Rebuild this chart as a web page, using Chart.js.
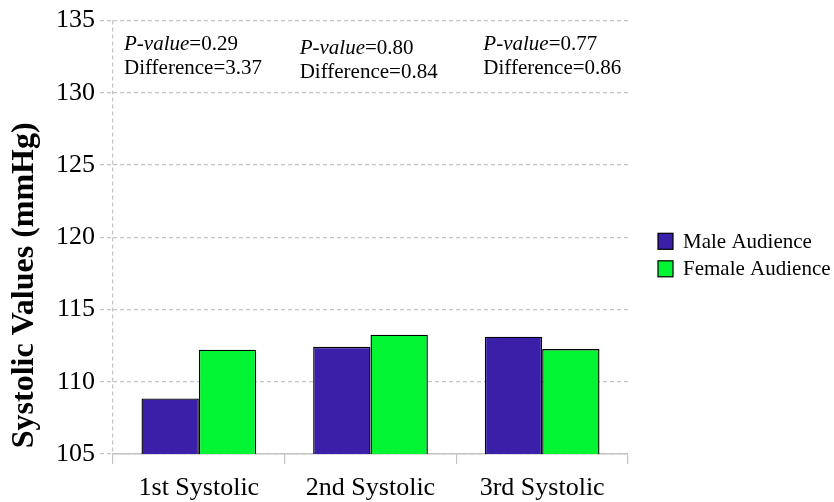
<!DOCTYPE html>
<html><head><meta charset="utf-8">
<script src="https://cdn.jsdelivr.net/npm/chart.js@4/dist/chart.umd.min.js"></script>
<style>html,body{margin:0;padding:0;background:#fff}#wrap{width:834px;height:502px}</style>
</head><body><div id="wrap"><canvas id="c" width="834" height="502"></canvas></div>
<script>
const categories = ['1st Systolic', '2nd Systolic', '3rd Systolic'];
const seriesNames = ['Male Audience', 'Female Audience'];
const maleValues = [108.85, 112.42, 113.12];
const femaleValues = [112.22, 113.26, 112.26];
const pValues = ['0.29', '0.80', '0.77'];
const differences = ['3.37', '0.84', '0.86'];
const yMin = 105, yMax = 135, yStep = 5;
const yTitle = 'Systolic Values (mmHg)';

const FONT = "'Liberation Serif', 'Times New Roman', serif";
const GRID = '#c4c4c4';

const annotationPlugin = {
  id: 'annot',
  afterDraw(chart) {
    const ctx = chart.ctx, x = chart.scales.x, ca = chart.chartArea;
    const half = (x.getPixelForValue(1) - x.getPixelForValue(0)) / 2;
    const offs = [{dx: 11, dy: 29}, {dx: 15, dy: 33}, {dx: 27, dy: 29}];
    ctx.save();
    ctx.fillStyle = '#000';
    ctx.textBaseline = 'alphabetic';
    ctx.textAlign = 'left';
    categories.forEach((c, i) => {
      const left = x.getPixelForValue(i) - half + offs[i].dx;
      const b1 = ca.top + offs[i].dy, b2 = b1 + 24.5;
      ctx.font = 'italic 21px ' + FONT;
      ctx.fillText('P-value', left, b1);
      const w = ctx.measureText('P-value').width;
      ctx.font = '21px ' + FONT;
      ctx.fillText('=' + pValues[i], left + w, b1);
      ctx.fillText('Difference=' + differences[i], left, b2);
    });
    // y-axis title
    ctx.save();
    ctx.translate(25, ca.top + (ca.bottom - ca.top) / 2 + 48);
    ctx.rotate(-Math.PI / 2);
    ctx.font = 'bold 32px ' + FONT;
    ctx.textAlign = 'center';
    ctx.textBaseline = 'middle';
    ctx.fillText(yTitle, 0, 0);
    ctx.restore();
    // legend
    const mid = (ca.top + ca.bottom) / 2;
    const rows = [mid + 4, mid + 31.5];
    chart.data.datasets.forEach((ds, i) => {
      const bx = ca.right + 30, cy = rows[i];
      ctx.fillStyle = ds.backgroundColor;
      ctx.fillRect(bx, cy - 8, 15, 16);
      ctx.strokeStyle = '#000';
      ctx.lineWidth = 1.2;
      ctx.strokeRect(bx, cy - 8, 15, 16);
      ctx.fillStyle = '#000';
      ctx.font = '21px ' + FONT;
      ctx.textBaseline = 'middle';
      ctx.textAlign = 'left';
      ctx.fillText(ds.label, bx + 25, cy + 1);
    });
    ctx.restore();
  }
};

new Chart(document.getElementById('c'), {
  type: 'bar',
  data: {
    labels: categories,
    datasets: [
      {label: seriesNames[0], data: maleValues, backgroundColor: '#3A1FA8', borderColor: '#000', borderWidth: 1.4},
      {label: seriesNames[1], data: femaleValues, backgroundColor: '#02F532', borderColor: '#000', borderWidth: 1.4}
    ]
  },
  options: {
    responsive: false,
    devicePixelRatio: 1,
    animation: false,
    categoryPercentage: 0.668,
    barPercentage: 1,
    layout: {padding: {top: 18, right: 206, left: 0, bottom: 0}},
    plugins: {legend: {display: false}, tooltip: {enabled: false}},
    scales: {
      x: {
        afterFit: s => { s.height = 48; },
        grid: {
          offset: true,
          color: ctx => (ctx.index === 0 || ctx.index === categories.length) ? GRID : 'rgba(0,0,0,0)',
          tickColor: GRID,
          tickLength: 10,
          lineWidth: 1.2
        },
        border: {display: true, color: GRID, width: 1.5, dash: [4, 3]},
        ticks: {color: '#000', font: {family: FONT, size: 26}, padding: 9}
      },
      y: {
        min: yMin, max: yMax,
        afterFit: s => { s.width = 113; },
        ticks: {stepSize: yStep, color: '#000', font: {family: FONT, size: 26}, padding: 5},
        grid: {color: GRID, tickBorderDash: [4, 3], tickLength: 13, lineWidth: 1.2},
        border: {display: false, dash: [4, 3]},
        title: {display: false}
      }
    }
  },
  plugins: [annotationPlugin]
});
</script>
</body></html>
